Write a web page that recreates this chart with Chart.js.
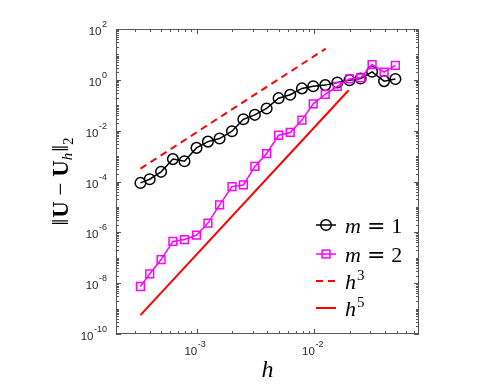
<!DOCTYPE html>
<html>
<head>
<meta charset="utf-8">
<script src="https://cdn.jsdelivr.net/npm/chart.js@4.4.1/dist/chart.umd.min.js"></script>
<style>
  body { margin: 0; background: #fff; }
  #wrap { width: 499px; height: 388px; }
</style>
</head>
<body>
<div id="wrap"><canvas id="errChart"></canvas></div>
<script>
// mesh sizes h
const hVals = [3.34e-4, 4.0e-4, 5.0e-4, 6.3e-4, 7.9e-4, 1.0e-3, 1.25e-3, 1.57e-3, 2.0e-3, 2.5e-3,
  3.13e-3, 3.94e-3, 4.98e-3, 6.25e-3, 7.86e-3, 9.8e-3, 1.24e-2, 1.57e-2, 1.99e-2, 2.48e-2,
  3.1e-2, 3.92e-2, 4.89e-2];
// error m = 1
const errM1 = [8.8e-5, 1.23e-4, 2.4e-4, 7.6e-4, 6.3e-4, 2.1e-3, 3.7e-3, 4.9e-3, 9.5e-3, 2.8e-2,
  4.2e-2, 7.5e-2, 0.19, 0.26, 0.46, 0.56, 0.62, 0.79, 0.97, 1.13,
  2.07, 0.89, 1.07];
// error m = 2
const errM2 = [7.4e-9, 2.3e-8, 8.5e-8, 4.4e-7, 5.2e-7, 7.7e-7, 2.3e-6, 1.2e-5, 6.3e-5, 7.3e-5,
  3.9e-4, 1.26e-3, 6.6e-3, 8.5e-3, 2.6e-2, 0.114, 0.27, 0.55, 1.09, 1.2,
  4.0, 2.0, 3.7];
// reference slopes (end points)
const h3X = [3.34e-4, 1.25e-2];
const h3Y = [3.2e-4, 16.8];
const h5X = [3.34e-4, 1.96e-2];
const h5Y = [5.5e-10, 0.39];
// tick labels (powers of ten)
const xTickExp = [-3, -2];
const yTickExp = [-10, -8, -6, -4, -2, 0, 2];

const pts = (xs, ys) => xs.map((v, i) => ({ x: v, y: ys[i] }));
const AXIS = '#262626';
const SANS = '"Liberation Sans", Arial, sans-serif';
const SER = '"Liberation Serif", "DejaVu Serif", serif';

function drawPow(ctx, exp, x, y, align) {
  // "10" with superscript exponent, y = baseline of "10"
  const base = '10', sup = String(exp);
  ctx.font = '11.5px ' + SANS;
  const wb = ctx.measureText(base).width;
  ctx.font = '9px ' + SANS;
  const ws = ctx.measureText(sup).width;
  const total = wb + 0.5 + ws;
  const x0 = align === 'right' ? x - total : x - total / 2;
  ctx.textAlign = 'left';
  ctx.textBaseline = 'alphabetic';
  ctx.font = '11.5px ' + SANS;
  ctx.fillText(base, x0, y);
  ctx.font = '9px ' + SANS;
  ctx.fillText(sup, x0 + wb + 0.5, y - 8);
}

function drawPieces(ctx, pieces, x, y) {
  let cx = x;
  pieces.forEach(p => {
    ctx.font = p.f;
    ctx.fillText(p.t, cx + (p.dx || 0), y + (p.dy || 0));
    cx += ctx.measureText(p.t).width + (p.dx || 0) + (p.after || 0);
  });
  return cx - x;
}

function piecesWidth(ctx, pieces) {
  let w = 0;
  pieces.forEach(p => {
    ctx.font = p.f;
    w += ctx.measureText(p.t).width + (p.dx || 0) + (p.after || 0);
  });
  return w;
}

const decor = {
  id: 'decor',
  afterDraw(chart) {
    const { ctx, chartArea: a, scales: { x, y } } = chart;
    ctx.save();

    // box
    ctx.strokeStyle = '#555';
    ctx.lineWidth = 1;
    ctx.strokeRect(a.left + 0.5, a.top + 0.5, a.right - a.left - 1, a.bottom - a.top - 1);

    // inward ticks on all sides
    ctx.beginPath();
    for (let e = -5; e <= 0; e++) {
      for (let m = 1; m <= 9; m++) {
        const v = m * Math.pow(10, e);
        if (v < x.min || v > x.max) continue;
        const px = Math.round(x.getPixelForValue(v)) + 0.5;
        const len = m === 1 ? 5 : 3;
        ctx.moveTo(px, a.bottom); ctx.lineTo(px, a.bottom - len);
        ctx.moveTo(px, a.top); ctx.lineTo(px, a.top + len);
      }
    }
    for (let e = -10; e <= 2; e++) {
      for (let m = 1; m <= 9; m++) {
        const v = m * Math.pow(10, e);
        if (v < y.min || v > y.max * 1.0001) continue;
        const py = Math.round(y.getPixelForValue(v)) + 0.5;
        const len = (m === 1 && e % 2 === 0) ? 5 : 3;
        ctx.moveTo(a.left, py); ctx.lineTo(a.left + len, py);
        ctx.moveTo(a.right, py); ctx.lineTo(a.right - len, py);
      }
    }
    ctx.stroke();

    // tick labels
    ctx.fillStyle = AXIS;
    xTickExp.forEach(e => {
      drawPow(ctx, e, x.getPixelForValue(Math.pow(10, e)) - 1.5, a.bottom + 20.5, 'center');
    });
    yTickExp.forEach(e => {
      drawPow(ctx, e, a.left - 9, y.getPixelForValue(Math.pow(10, e)) + 6, 'right');
    });

    // axis titles
    ctx.fillStyle = '#000';
    ctx.textAlign = 'left';
    ctx.textBaseline = 'alphabetic';
    ctx.font = 'italic 24px ' + SER;
    const wh = ctx.measureText('h').width;
    ctx.fillText('h', (a.left + a.right) / 2 - wh / 2, 377);

    const yt = [
      { t: '\u2016', f: '24px ' + SER, after: 1 },
      { t: 'U', f: 'bold 23px ' + SER },
      { t: ' \u2212 ', f: '23px ' + SER },
      { t: 'U', f: 'bold 23px ' + SER },
      { t: 'h', f: 'italic 15px ' + SER, dy: 4, after: 1 },
      { t: '\u2016', f: '24px ' + SER },
      { t: '2', f: '15px ' + SER, dy: 5 }
    ];
    ctx.save();
    ctx.translate(68, (a.top + a.bottom) / 2);
    ctx.rotate(-Math.PI / 2);
    drawPieces(ctx, yt, -piecesWidth(ctx, yt) / 2, 0);
    ctx.restore();

    // legend
    const rows = [225, 254, 281, 308];
    const lx0 = 316, lx1 = 336, tx = 345;
    chart.data.datasets.forEach((ds, i) => {
      const ry = rows[i];
      ctx.strokeStyle = ds.borderColor;
      ctx.lineWidth = ds.borderWidth;
      ctx.setLineDash(ds.borderDash || []);
      ctx.beginPath();
      ctx.moveTo(lx0, ry); ctx.lineTo(lx1, ry);
      ctx.stroke();
      ctx.setLineDash([]);
      const mx = (lx0 + lx1) / 2;
      if (ds.pointStyle === 'circle' && ds.pointRadius > 0) {
        ctx.lineWidth = ds.pointBorderWidth;
        ctx.beginPath();
        ctx.arc(mx, ry, ds.pointRadius, 0, Math.PI * 2);
        ctx.stroke();
      } else if (ds.pointStyle === 'rect' && ds.pointRadius > 0) {
        const s = ds.pointRadius * Math.SQRT1_2;
        ctx.lineWidth = ds.pointBorderWidth;
        ctx.strokeRect(mx - s, ry - s, 2 * s, 2 * s);
      }
      ctx.fillStyle = '#000';
      const base = ry + 7.5;
      let parts;
      if (ds.label.startsWith('m')) {
        parts = [
          { t: 'm', f: 'italic 22px ' + SER, after: 6 },
          { t: '=', f: '22px "DejaVu Serif", serif', after: 6 },
          { t: ds.label.slice(-1), f: '22px ' + SER }
        ];
      } else {
        parts = [
          { t: 'h', f: 'italic 22px ' + SER, after: 1 },
          { t: ds.label.slice(-1), f: '15px ' + SER, dy: -9 }
        ];
      }
      drawPieces(ctx, parts, tx, base);
    });

    ctx.restore();
  }
};

new Chart(document.getElementById('errChart'), {
  type: 'line',
  data: {
    datasets: [
      {
        label: 'm = 1',
        data: pts(hVals, errM1),
        borderColor: '#000000',
        borderWidth: 1.5,
        pointStyle: 'circle',
        pointRadius: 5.3,
        pointBorderWidth: 1.5,
        pointBackgroundColor: 'rgba(0,0,0,0)',
        pointBorderColor: '#000000',
        order: 4
      },
      {
        label: 'm = 2',
        data: pts(hVals, errM2),
        borderColor: '#ff00ff',
        borderWidth: 1.5,
        pointStyle: 'rect',
        pointRadius: 5.5,
        pointBorderWidth: 1.5,
        pointBackgroundColor: 'rgba(0,0,0,0)',
        pointBorderColor: '#ff00ff',
        order: 3
      },
      {
        label: 'h3',
        data: pts(h3X, h3Y),
        borderColor: '#ff0000',
        borderWidth: 2,
        borderDash: [7, 5],
        pointRadius: 0,
        order: 2
      },
      {
        label: 'h5',
        data: pts(h5X, h5Y),
        borderColor: '#ff0000',
        borderWidth: 2,
        pointRadius: 0,
        order: 1
      }
    ]
  },
  options: {
    responsive: true,
    maintainAspectRatio: false,
    animation: false,
    layout: { padding: { top: 29, right: 80, left: 0, bottom: 0 } },
    elements: { line: { tension: 0 } },
    plugins: { legend: { display: false }, tooltip: { enabled: false } },
    scales: {
      x: {
        type: 'logarithmic',
        min: 2.07e-4,
        max: 7.76e-2,
        grid: { display: false },
        border: { display: false },
        ticks: { display: false },
        afterFit: s => { s.height = 54; }
      },
      y: {
        type: 'logarithmic',
        min: 1e-10,
        max: 1e2,
        grid: { display: false },
        border: { display: false },
        ticks: { display: false },
        afterFit: s => { s.width = 116; }
      }
    }
  },
  plugins: [decor]
});
</script>
</body>
</html>
